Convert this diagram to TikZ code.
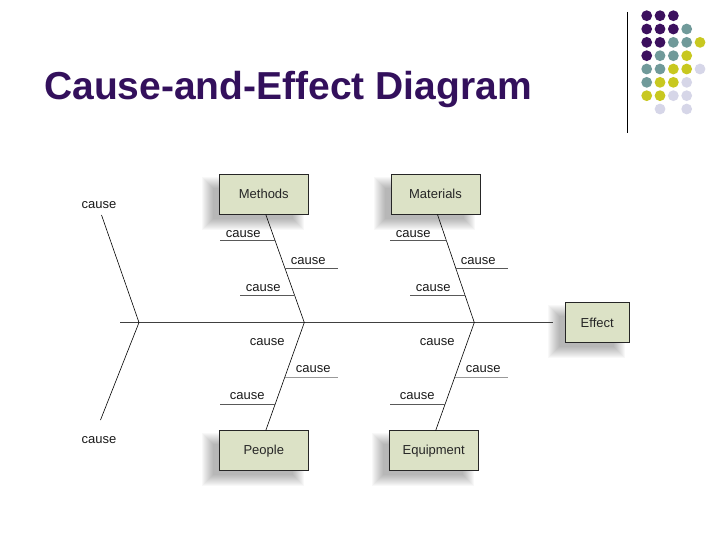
\documentclass[tikz,border=0pt]{standalone}
\usepackage{fontspec}
\setmainfont{Liberation Sans}
\usetikzlibrary{backgrounds,calc}
\definecolor{titlecol}{RGB}{51,16,92}
\definecolor{boxfill}{RGB}{220,226,198}
\definecolor{dP}{RGB}{60,16,94}
\definecolor{dT}{RGB}{112,154,154}
\definecolor{dY}{RGB}{200,200,32}
\definecolor{dL}{RGB}{214,214,232}
\newcommand{\myshadow}[1]{%
  \foreach \k in {0,...,11}{%
    \fill[black,opacity=0.028]
      ([xshift={-17pt+1pt*\k},yshift={-3pt-1pt*\k}]#1.north west)
      rectangle
      ([xshift={-5pt-1pt*\k},yshift={-15pt+1pt*\k}]#1.south east);
  }}
\begin{document}
\begin{tikzpicture}[x=1pt,y=-1pt,
  box/.style={draw=black!85, line width=0.8pt, fill=boxfill, minimum width=89pt,
    minimum height=40pt, inner sep=0pt, font=\fontsize{13}{15}\selectfont, text=black!85},
  lbl/.style={font=\fontsize{13}{15}\selectfont, text=black!90, inner sep=0pt},
  bone/.style={black, line width=0.6pt},
  spine/.style={black!75, line width=1.8pt},
  cline/.style={black!65, line width=1.2pt},
  clinel/.style={black!40, line width=0.8pt},
  dot/.style={circle, minimum size=10.8pt, inner sep=0pt}]
\useasboundingbox (0,0) rectangle (720,540);

% title
\node[anchor=base west, inner sep=0pt, text=titlecol,
  font=\fontsize{39}{45}\selectfont\bfseries] (title) at (44,99.5) {Cause-and-Effect Diagram};

% decoration: vertical rule and dots
\coordinate (vt) at (627,12);
\coordinate (vb) at (627,133);
\draw[black, line width=0.9pt] (vt) -- (vb);
\foreach \r/\lst in {1/{dP,dP,dP}, 2/{dP,dP,dP,dT}, 3/{dP,dP,dT,dT,dY},
  4/{dP,dT,dT,dY}, 5/{dT,dT,dY,dY,dL}, 6/{dT,dY,dY,dL}, 7/{dY,dY,dL,dL},
  8/{none,dL,none,dL}}{%
  \foreach \c [count=\i] in \lst {%
    \ifx\c\relax\else
    \node[dot, fill=\c] (d\r-\i) at ({646.7+13.33*(\i-1)},{15.7+13.33*(\r-1)}) {};
    \fi
  }}

% boxes
\node[box] (m) at (263.8,194.2) {Methods};
\node[box] (t) at (435.5,194.2) {Materials};
\node[box] (p) at (263.8,450.8) {People};
\node[box] (q) at (433.7,450.8) {Equipment};
\node[box, minimum width=64pt] (e) at (597.2,322.7) {Effect};

\begin{scope}[on background layer]
  \myshadow{m}\myshadow{t}\myshadow{p}\myshadow{q}\myshadow{e}
\end{scope}

% spine
\coordinate (s0) at (120,322.5);
\coordinate (se) at (553,322.5);
\draw[spine] (s0) -- (se);

% tail
\coordinate (tj) at (139,322.5);
\coordinate (tu) at (101.5,215);
\coordinate (tl) at (100.5,420);
\draw[bone] (tu) -- (tj) -- (tl);
\node[lbl] (tcu) at (99,205) {cause};
\node[lbl] (tcl) at (99,440) {cause};

% junctions on spine
\coordinate (mj) at (304.3,322.5);
\coordinate (tj2) at (474.3,322.5);

% upper bones
\foreach \b/\j/\dx in {m/mj/0, t/tj2/170}{
  \coordinate (\b s) at ([xshift=2pt]\b.south);
  \draw[bone] (\b s) -- (\j);
  \coordinate (\b a) at ($(\b s)!0.246!(\j)$);
  \coordinate (\b b) at ($(\b s)!0.503!(\j)$);
  \coordinate (\b c) at ($(\b s)!0.758!(\j)$);
  \coordinate (\b a0) at (220+\dx,240.7);
  \coordinate (\b b0) at (338.3+\dx,268.3);
  \coordinate (\b c0) at (240+\dx,295.7);
  \draw[cline] (\b a0) -- (\b a |- \b a0);
  \draw[cline] (\b b |- \b b0) -- (\b b0);
  \draw[cline] (\b c0) -- (\b c |- \b c0);
  \node[lbl] (\b la) at (243.3+\dx,234) {cause};
  \node[lbl] (\b lb) at (308.3+\dx,260.7) {cause};
  \node[lbl] (\b lc) at (263.3+\dx,288.3) {cause};
}

% lower bones
\foreach \b/\j/\dx in {p/mj/0, q/tj2/170}{
  \coordinate (\b s) at ([xshift=2pt]\b.north);
  \draw[bone] (\b s) -- (\j);
  \coordinate (\b b) at ($(\j)!0.51!(\b s)$);
  \coordinate (\b c) at ($(\j)!0.758!(\b s)$);
  \coordinate (\b b0) at (338.3+\dx,377.3);
  \coordinate (\b c0) at (220+\dx,404.3);
  \draw[clinel] (\b b |- \b b0) -- (\b b0);
  \draw[cline] (\b c0) -- (\b c |- \b c0);
  \node[lbl] (\b la) at (267.3+\dx,342.3) {cause};
  \node[lbl] (\b lb) at (313.3+\dx,369) {cause};
  \node[lbl] (\b lc) at (247.3+\dx,396) {cause};
}
\end{tikzpicture}
\end{document}
